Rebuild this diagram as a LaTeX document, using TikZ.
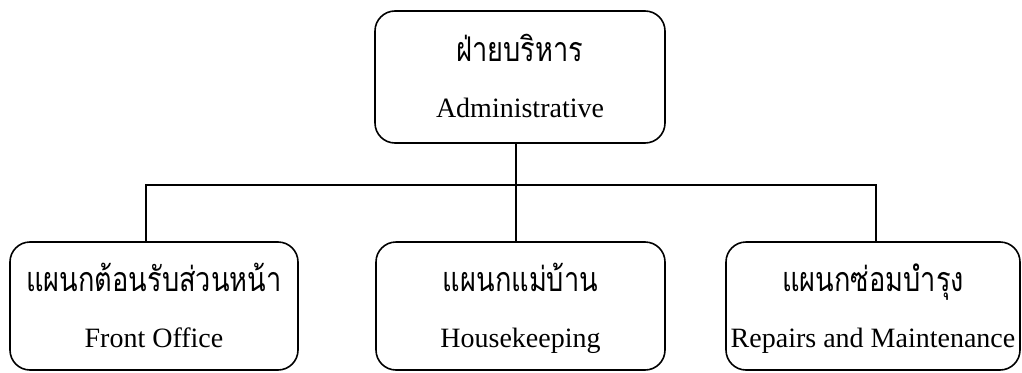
\documentclass[tikz,border=0pt]{standalone}
\usepackage{fontspec}
\setmainfont{Liberation Serif}
\newfontfamily\thai[Script=Thai, FakeStretch=0.8]{Loma}
\usetikzlibrary{positioning}

\tikzset{
  unitbox/.style={draw=black, line width=1.6pt, rounded corners=20pt, inner sep=0pt},
  thaitext/.style={anchor=base, inner sep=0pt, font=\thai\fontsize{34pt}{38pt}\selectfont},
  engtext/.style={anchor=base, inner sep=0pt, font=\fontsize{28pt}{32pt}\selectfont},
  link/.style={draw=black, line width=1.6pt}
}

\begin{document}
\begin{tikzpicture}[x=1pt,y=1pt]
  \useasboundingbox (0,0) rectangle (1022,-372);

  % organisation boxes
  \node[unitbox, minimum width=290pt, minimum height=132pt] (top) at (520,-77) {};
  \node[unitbox, minimum width=288pt, minimum height=128pt] (lft) at (154,-306) {};
  \node[unitbox, minimum width=289pt, minimum height=128pt] (mid) at (520.5,-306) {};
  \node[unitbox, minimum width=294pt, minimum height=128pt] (rgt) at (873,-306) {};

  % labels: Thai name over English name
  \node[thaitext] (topth) at ([yshift=-51pt]top.north) {ฝ่ายบริหาร};
  \node[engtext]  (topen) at ([yshift=-107pt]top.north) {Administrative};
  \node[thaitext] (lftth) at ([yshift=-50pt]lft.north) {แผนกต้อนรับส่วนหน้า};
  \node[engtext]  (lften) at ([yshift=-106pt]lft.north) {Front Office};
  \node[thaitext] (midth) at ([yshift=-50pt]mid.north) {แผนกแม่บ้าน};
  \node[engtext]  (miden) at ([yshift=-106pt]mid.north) {Housekeeping};
  \node[thaitext] (rgtth) at ([yshift=-50pt]rgt.north) {แผนกซ่อมบำรุง};
  \node[engtext]  (rgten) at ([yshift=-106pt]rgt.north) {Repairs and Maintenance};

  % connectors
  \coordinate (bar) at (516,-185);
  \draw[link] ([xshift=-4pt]top.south) -- ([xshift=-4.5pt]mid.north);
  \draw[link] ([xshift=-8pt]lft.north) |- (bar) -| ([xshift=3pt]rgt.north);
\end{tikzpicture}
\end{document}
